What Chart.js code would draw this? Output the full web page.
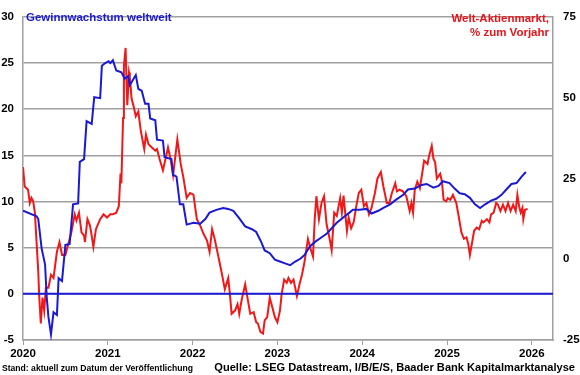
<!DOCTYPE html>
<html>
<head>
<meta charset="utf-8">
<script src="https://cdn.jsdelivr.net/npm/chart.js@4.4.1/dist/chart.umd.min.js"></script>
<style>
  body { margin: 0; background: #fff; }
  #wrap { position: relative; width: 580px; height: 375px; font-family: "Liberation Sans", Arial, sans-serif; font-weight: bold; }
  #chart { position: absolute; left: 0; top: 0; }
  .lbl { position: absolute; white-space: nowrap; }
  #tLeft { left: 26px; top: 11px; font-size: 11.5px; color: #1a1ad6; }
  #tRight { right: 31px; top: 11px; font-size: 11.5px; color: #e8141a; text-align: right; line-height: 14px; }
  #stand { left: 2px; top: 363px; font-size: 8.6px; color: #000; }
  #quelle { right: 5px; top: 361px; font-size: 11.1px; color: #000; }
</style>
</head>
<body>
<div id="wrap">
  <canvas id="chart" width="580" height="375"></canvas>
  <div class="lbl" id="tLeft">Gewinnwachstum weltweit</div>
  <div class="lbl" id="tRight">Welt-Aktienmarkt,<br>% zum Vorjahr</div>
  <div class="lbl" id="stand">Stand: aktuell zum Datum der Veröffentlichung</div>
  <div class="lbl" id="quelle">Quelle: LSEG Datastream, I/B/E/S, Baader Bank Kapitalmarktanalyse</div>
</div>
<script>
// earnings growth (left axis, %)
const earnYears = [2020.00, 2020.16, 2020.18, 2020.22, 2020.26, 2020.28, 2020.30, 2020.33, 2020.36, 2020.40,
  2020.42, 2020.46, 2020.50, 2020.55, 2020.59, 2020.65, 2020.67, 2020.72, 2020.75, 2020.81,
  2020.84, 2020.91, 2020.93, 2020.97, 2021.01, 2021.03, 2021.06, 2021.10, 2021.16, 2021.20,
  2021.24, 2021.26, 2021.33, 2021.36, 2021.40, 2021.44, 2021.48, 2021.50, 2021.56, 2021.58,
  2021.65, 2021.67, 2021.75, 2021.77, 2021.81, 2021.85, 2021.89, 2021.93, 2022.01, 2022.09,
  2022.15, 2022.20, 2022.28, 2022.36, 2022.42, 2022.48, 2022.54, 2022.62, 2022.70, 2022.75,
  2022.81, 2022.85, 2022.91, 2022.97, 2023.03, 2023.09, 2023.15, 2023.21, 2023.27, 2023.32,
  2023.38, 2023.44, 2023.50, 2023.58, 2023.64, 2023.70, 2023.78, 2023.85, 2023.89, 2023.97,
  2024.05, 2024.11, 2024.19, 2024.25, 2024.33, 2024.40, 2024.48, 2024.54, 2024.62, 2024.70,
  2024.76, 2024.84, 2024.90, 2024.95, 2025.03, 2025.09, 2025.15, 2025.21, 2025.27, 2025.33,
  2025.39, 2025.45, 2025.52, 2025.58, 2025.64, 2025.70, 2025.76, 2025.82, 2025.88, 2025.93];
const earnGrowth = [9.0, 8.4, 8.1, 4.9, 3.2, -0.4, -2.5, -4.4, -2.0, -2.3,
  1.7, 1.4, 5.3, 5.4, 9.7, 9.8, 14.3, 14.6, 18.7, 18.4,
  21.3, 21.2, 24.7, 25.0, 25.2, 25.0, 25.3, 24.2, 24.0, 23.3,
  23.6, 22.6, 23.7, 22.2, 22.0, 20.6, 20.6, 19.0, 18.8, 16.7,
  16.6, 14.8, 14.6, 12.9, 12.7, 9.7, 9.7, 7.5, 7.7, 7.6,
  8.1, 8.8, 9.1, 9.3, 9.2, 9.0, 8.3, 7.3, 7.0, 6.7,
  5.6, 4.7, 4.4, 3.7, 3.5, 3.3, 3.1, 3.5, 3.8, 4.2,
  5.1, 5.6, 6.0, 6.5, 7.1, 7.7, 8.3, 8.8, 9.1, 9.1,
  9.2, 8.7, 9.0, 9.3, 9.7, 10.2, 10.7, 11.3, 11.4, 11.8,
  11.9, 11.5, 11.7, 12.2, 12.0, 11.4, 10.9, 10.8, 10.4, 9.7,
  9.3, 9.7, 10.1, 10.3, 10.7, 11.3, 11.9, 12.0, 12.7, 13.2];

// world equity market, % y/y (right axis)
const stockYears = [2020.00, 2020.02, 2020.06, 2020.08, 2020.10, 2020.12, 2020.14, 2020.16, 2020.18, 2020.19,
  2020.21, 2020.23, 2020.25, 2020.27, 2020.30, 2020.33, 2020.36, 2020.40, 2020.43, 2020.46,
  2020.50, 2020.53, 2020.57, 2020.61, 2020.63, 2020.66, 2020.69, 2020.72, 2020.73, 2020.76,
  2020.79, 2020.81, 2020.83, 2020.86, 2020.91, 2020.95, 2020.99, 2021.03, 2021.06, 2021.10,
  2021.13, 2021.15, 2021.16, 2021.18, 2021.19, 2021.21, 2021.22, 2021.23, 2021.25, 2021.26,
  2021.28, 2021.31, 2021.33, 2021.36, 2021.39, 2021.43, 2021.45, 2021.48, 2021.52, 2021.56,
  2021.58, 2021.61, 2021.65, 2021.69, 2021.71, 2021.74, 2021.77, 2021.82, 2021.86, 2021.89,
  2021.93, 2021.97, 2022.01, 2022.05, 2022.09, 2022.13, 2022.17, 2022.20, 2022.23, 2022.26,
  2022.30, 2022.34, 2022.38, 2022.42, 2022.44, 2022.46, 2022.50, 2022.53, 2022.55, 2022.58,
  2022.62, 2022.66, 2022.68, 2022.72, 2022.75, 2022.77, 2022.80, 2022.83, 2022.85, 2022.88,
  2022.91, 2022.94, 2022.97, 2023.00, 2023.03, 2023.05, 2023.08, 2023.11, 2023.13, 2023.16,
  2023.19, 2023.23, 2023.26, 2023.29, 2023.32, 2023.36, 2023.39, 2023.42, 2023.44, 2023.46,
  2023.49, 2023.52, 2023.55, 2023.58, 2023.62, 2023.64, 2023.67, 2023.70, 2023.74, 2023.76,
  2023.78, 2023.82, 2023.84, 2023.87, 2023.90, 2023.93, 2023.96, 2023.99, 2024.02, 2024.05,
  2024.08, 2024.11, 2024.15, 2024.18, 2024.22, 2024.25, 2024.29, 2024.32, 2024.35, 2024.39,
  2024.41, 2024.44, 2024.48, 2024.52, 2024.56, 2024.58, 2024.60, 2024.62, 2024.65, 2024.68,
  2024.71, 2024.73, 2024.75, 2024.77, 2024.79, 2024.82, 2024.84, 2024.86, 2024.88, 2024.92,
  2024.94, 2024.96, 2024.99, 2025.01, 2025.04, 2025.07, 2025.11, 2025.14, 2025.17, 2025.20,
  2025.23, 2025.25, 2025.27, 2025.30, 2025.32, 2025.35, 2025.38, 2025.41, 2025.43, 2025.47,
  2025.50, 2025.52, 2025.55, 2025.58, 2025.60, 2025.63, 2025.66, 2025.69, 2025.72, 2025.75,
  2025.78, 2025.81, 2025.83, 2025.85, 2025.87, 2025.89, 2025.90, 2025.92, 2025.95];
const stockChange = [28.5, 22.5, 21.5, 17.4, 19.0, 17.9, 14.4, 5.3, -3.8, -10.8,
  -19.9, -11.9, -15.9, -8.8, -8.8, -4.8, -5.8, 2.3, 5.3, 1.3,
  1.3, 4.3, 8.3, 13.9, 12.0, 14.4, 8.3, 7.3, 5.3, 12.4,
  10.4, 7.3, 3.8, 9.3, 12.4, 13.9, 12.9, 13.9, 13.9, 14.4,
  16.4, 26.5, 23.5, 43.7, 59.8, 65.4, 55.8, 47.7, 57.8, 56.3,
  49.8, 46.7, 44.2, 45.7, 39.6, 34.1, 38.6, 35.6, 34.6, 33.6,
  34.1, 31.1, 27.5, 32.1, 34.6, 31.1, 26.0, 37.1, 29.5, 25.5,
  19.0, 20.5, 20.0, 12.4, 10.4, 7.8, 5.8, 2.3, 9.3, 6.3,
  1.3, -3.8, -9.3, -5.8, -10.8, -16.9, -15.9, -13.9, -16.9, -12.4,
  -7.8, -13.9, -16.9, -16.4, -19.5, -19.9, -22.5, -23.0, -18.9, -17.9,
  -11.9, -14.9, -17.9, -19.5, -15.9, -10.8, -6.3, -7.3, -5.8, -7.3,
  -6.3, -11.4, -7.8, -4.8, -0.8, 6.3, 3.3, 0.8, 12.4, 19.5,
  12.4, 17.4, 19.5, 10.8, 5.8, 2.8, 14.4, 13.4, 18.9, 14.4,
  19.7, 8.8, 12.9, 9.6, 11.5, 16.4, 20.5, 21.5, 16.4, 17.4,
  13.9, 15.9, 20.5, 25.0, 27.0, 22.5, 17.4, 17.4, 20.5, 23.5,
  21.0, 21.5, 21.0, 19.5, 14.9, 17.4, 14.4, 21.5, 24.0, 22.0,
  27.0, 30.5, 30.0, 29.5, 32.1, 35.1, 31.1, 30.0, 25.0, 26.5,
  24.0, 18.4, 17.9, 18.9, 18.4, 19.9, 17.4, 12.9, 8.3, 6.3,
  6.8, 4.8, 1.3, 5.8, 8.8, 9.8, 9.3, 11.9, 11.4, 12.4,
  11.4, 13.9, 14.4, 17.4, 16.9, 14.9, 16.9, 14.9, 17.4, 14.9,
  16.9, 14.9, 19.9, 16.4, 14.4, 15.9, 12.4, 15.3, 15.6];

const xTicks = [2020, 2021, 2022, 2023, 2024, 2025, 2026];

const blue = '#1a1ad6';
const red = '#f01818';
const gridGray = '#a0a0a0';
const tickFont = { family: '"Liberation Sans", Arial, sans-serif', size: 11.5, weight: 'bold' };

const zeroLine = {
  id: 'zeroLine',
  afterDatasetsDraw(chart) {
    const y = chart.scales.y.getPixelForValue(0);
    const { left, right } = chart.chartArea;
    const ctx = chart.ctx;
    ctx.save();
    ctx.strokeStyle = blue;
    ctx.lineWidth = 2;
    ctx.beginPath();
    ctx.moveTo(left, y);
    ctx.lineTo(right, y);
    ctx.stroke();
    ctx.restore();
  }
};

new Chart(document.getElementById('chart'), {
  type: 'line',
  data: {
    datasets: [
      {
        label: 'Welt-Aktienmarkt',
        data: stockYears.map((x, i) => ({ x, y: stockChange[i] })),
        yAxisID: 'y2',
        borderColor: red,
        borderWidth: 2,
        pointRadius: 0,
        tension: 0,
        order: 2,
      },
      {
        label: 'Gewinnwachstum weltweit',
        data: earnYears.map((x, i) => ({ x, y: earnGrowth[i] })),
        yAxisID: 'y',
        borderColor: blue,
        borderWidth: 2,
        pointRadius: 0,
        tension: 0,
        order: 1,
      },
    ],
  },
  options: {
    responsive: false,
    animation: false,
    layout: { padding: { top: 10, left: 0, right: 0, bottom: 0 } },
    plugins: { legend: { display: false }, tooltip: { enabled: false } },
    scales: {
      x: {
        type: 'linear',
        min: 2020,
        max: 2026.25,
        afterBuildTicks: (s) => { s.ticks = xTicks.map(v => ({ value: v })); },
        afterFit: (s) => { s.height = 35; },
        grid: { drawOnChartArea: false, drawTicks: true, tickLength: 5, color: gridGray },
        border: { color: gridGray, width: 1.5 },
        ticks: { color: '#000', font: tickFont, padding: 2, maxRotation: 0, callback: (v) => String(v) },
      },
      y: {
        position: 'left',
        min: -5,
        max: 30,
        afterFit: (s) => { s.width = 23; },
        ticks: { stepSize: 5, color: '#000', font: tickFont, padding: 9 },
        grid: { color: gridGray, lineWidth: 1.5, drawTicks: false },
        border: { color: gridGray, width: 1.5 },
      },
      y2: {
        position: 'right',
        min: -25,
        max: 75,
        afterFit: (s) => { s.width = 27; },
        ticks: { stepSize: 25, color: '#000', font: tickFont, padding: 10 },
        grid: { drawOnChartArea: false, drawTicks: false },
        border: { color: gridGray, width: 1.5 },
      },
    },
  },
  plugins: [zeroLine],
});
</script>
</body>
</html>
